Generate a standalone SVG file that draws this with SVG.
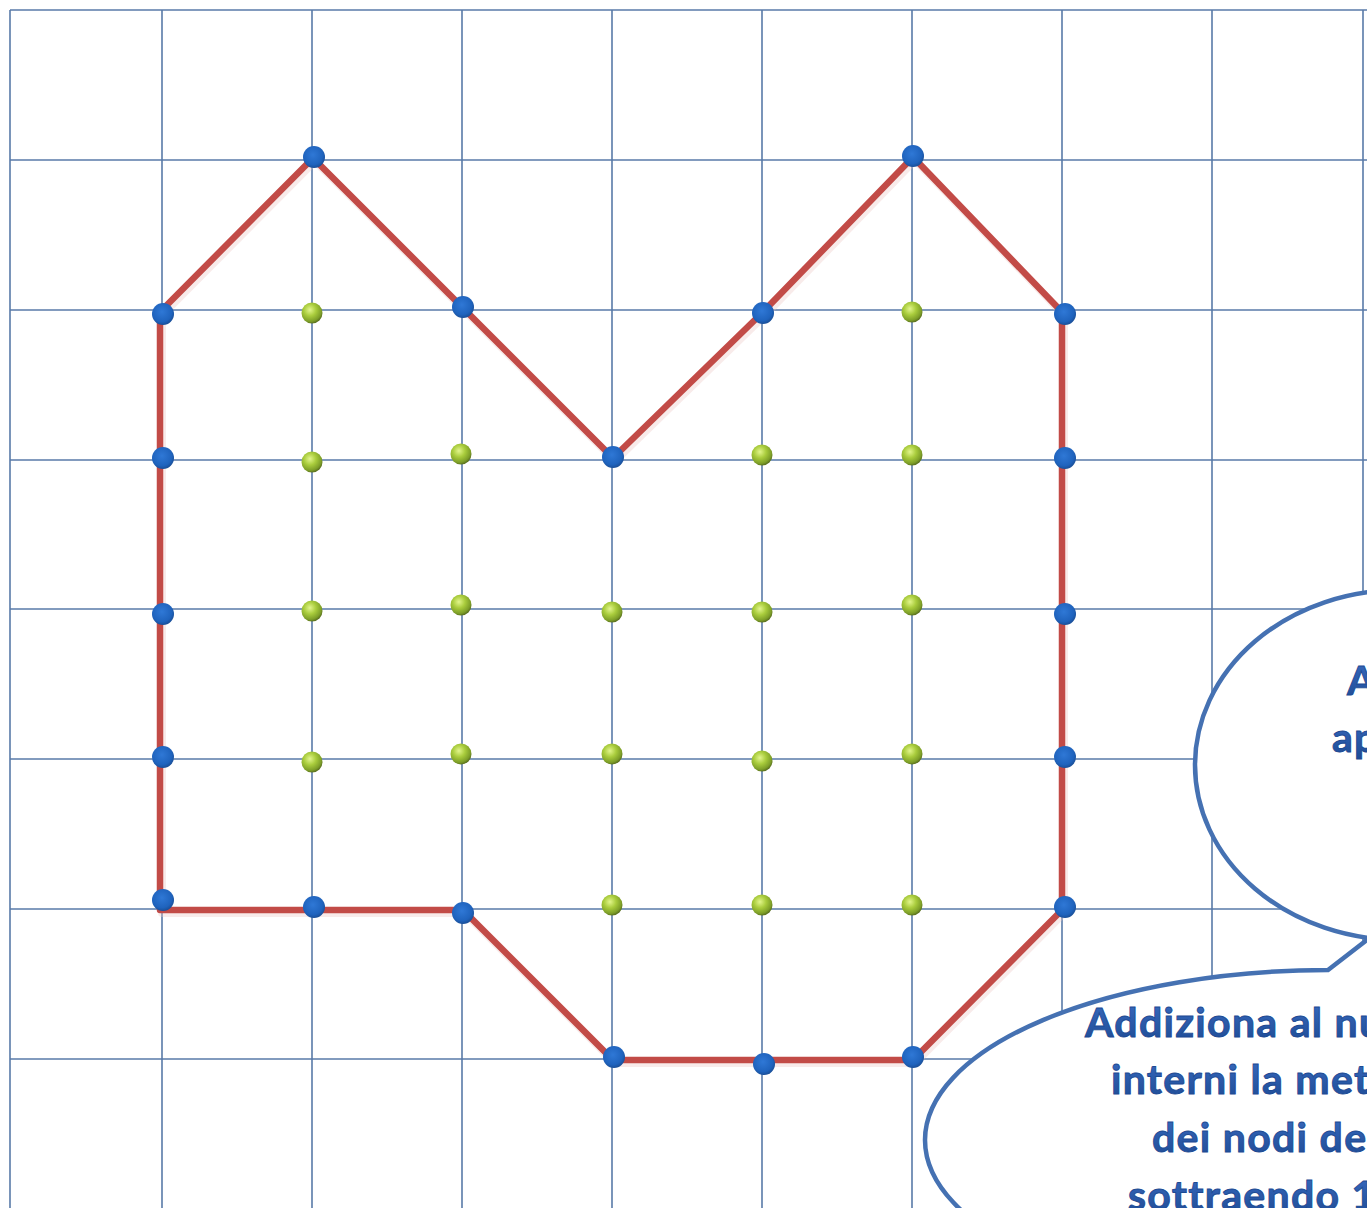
<svg xmlns="http://www.w3.org/2000/svg" width="1367" height="1208" viewBox="0 0 1367 1208">
<defs>
<radialGradient id="gBlue" cx="0.45" cy="0.4" r="0.6">
<stop offset="0" stop-color="#2f78d6"/>
<stop offset="0.75" stop-color="#1f63bd"/>
<stop offset="1" stop-color="#1a4f98"/>
</radialGradient>
<radialGradient id="gGreen" cx="0.4" cy="0.35" r="0.65">
<stop offset="0" stop-color="#e2f58c"/>
<stop offset="0.45" stop-color="#a9cc3c"/>
<stop offset="0.85" stop-color="#7d9e28"/>
<stop offset="1" stop-color="#5d7420"/>
</radialGradient>
<linearGradient id="gText" x1="0" y1="0" x2="0" y2="1">
<stop offset="0" stop-color="#3a6cc2"/>
<stop offset="1" stop-color="#1d4a93"/>
</linearGradient>
</defs>
<style>
.grid line{stroke:#587aa8;stroke-width:1.6}
.edge{fill:none;stroke:#c24b47;stroke-width:6.5;stroke-linejoin:round}
.edgeShadow{fill:none;stroke:#ecc6c3;stroke-width:8;stroke-linejoin:round;opacity:0.35}
.b{fill:url(#gBlue)}
.g{fill:url(#gGreen)}
.bubble{fill:#ffffff;stroke:#4571b2;stroke-width:4.5}
.t{font-family:"Lato","Open Sans","Liberation Sans",sans-serif;font-weight:700;font-size:41px;letter-spacing:1.3px;fill:url(#gText);stroke:#1d4a93;stroke-width:0.9}
</style>
<rect width="1367" height="1208" fill="#ffffff"/>
<g id="grid" class="grid">
<line x1="10" y1="10" x2="10" y2="1208"/>
<line x1="162" y1="10" x2="162" y2="1208"/>
<line x1="312" y1="10" x2="312" y2="1208"/>
<line x1="462" y1="10" x2="462" y2="1208"/>
<line x1="612" y1="10" x2="612" y2="1208"/>
<line x1="762" y1="10" x2="762" y2="1208"/>
<line x1="912" y1="10" x2="912" y2="1208"/>
<line x1="1062" y1="10" x2="1062" y2="1208"/>
<line x1="1212" y1="10" x2="1212" y2="1208"/>
<line x1="1363" y1="10" x2="1363" y2="1208"/>
<line x1="10" y1="10" x2="1367" y2="10"/>
<line x1="10" y1="160" x2="1367" y2="160"/>
<line x1="10" y1="310" x2="1367" y2="310"/>
<line x1="10" y1="460" x2="1367" y2="460"/>
<line x1="10" y1="609" x2="1367" y2="609"/>
<line x1="10" y1="759" x2="1367" y2="759"/>
<line x1="10" y1="909" x2="1367" y2="909"/>
<line x1="10" y1="1059" x2="1367" y2="1059"/>
</g>
<g id="connectors">
<polygon class="edgeShadow" points="160,312 313,158 463,308 613,458 763,312 913,157 1062,312 1062,910 913,1060 613,1060 463,910 160,910" transform="translate(2,3)"/>
<polygon class="edge" points="160,312 313,158 463,308 613,458 763,312 913,157 1062,312 1062,910 913,1060 613,1060 463,910 160,910"/>
</g>
<g id="boundary-nodes">
<circle class="b" cx="314" cy="157" r="11"/>
<circle class="b" cx="913" cy="156" r="11"/>
<circle class="b" cx="163" cy="314" r="11"/>
<circle class="b" cx="463" cy="307" r="11"/>
<circle class="b" cx="763" cy="313" r="11"/>
<circle class="b" cx="1065" cy="314" r="11"/>
<circle class="b" cx="163" cy="458" r="11"/>
<circle class="b" cx="613" cy="457" r="11"/>
<circle class="b" cx="1065" cy="458" r="11"/>
<circle class="b" cx="163" cy="614" r="11"/>
<circle class="b" cx="1065" cy="614" r="11"/>
<circle class="b" cx="163" cy="757" r="11"/>
<circle class="b" cx="1065" cy="757" r="11"/>
<circle class="b" cx="163" cy="900" r="11"/>
<circle class="b" cx="314" cy="907" r="11"/>
<circle class="b" cx="463" cy="913" r="11"/>
<circle class="b" cx="1065" cy="907" r="11"/>
<circle class="b" cx="614" cy="1057" r="11"/>
<circle class="b" cx="764" cy="1064" r="11"/>
<circle class="b" cx="913" cy="1057" r="11"/>
</g>
<g id="interior-nodes">
<circle class="g" cx="312" cy="313" r="10.5"/>
<circle class="g" cx="912" cy="312" r="10.5"/>
<circle class="g" cx="312" cy="462" r="10.5"/>
<circle class="g" cx="461" cy="454" r="10.5"/>
<circle class="g" cx="762" cy="455" r="10.5"/>
<circle class="g" cx="912" cy="455" r="10.5"/>
<circle class="g" cx="312" cy="611" r="10.5"/>
<circle class="g" cx="461" cy="605" r="10.5"/>
<circle class="g" cx="612" cy="612" r="10.5"/>
<circle class="g" cx="762" cy="612" r="10.5"/>
<circle class="g" cx="912" cy="605" r="10.5"/>
<circle class="g" cx="312" cy="762" r="10.5"/>
<circle class="g" cx="461" cy="754" r="10.5"/>
<circle class="g" cx="612" cy="754" r="10.5"/>
<circle class="g" cx="762" cy="761" r="10.5"/>
<circle class="g" cx="912" cy="754" r="10.5"/>
<circle class="g" cx="612" cy="905" r="10.5"/>
<circle class="g" cx="762" cy="905" r="10.5"/>
<circle class="g" cx="912" cy="905" r="10.5"/>
</g>
<g id="bubble-upper">
<ellipse class="bubble" cx="1400" cy="765" rx="205" ry="175"/>
<text class="t" x="1347" y="695">A</text>
<text class="t" x="1332" y="752">ap</text>
</g>
<g id="bubble-lower">
<path class="bubble" d="M1385,926 L1328,970 A405,170 0 0 0 925,1140 A405,170 0 0 0 1330,1310 A405,170 0 0 0 1735,1140 A405,170 0 0 0 1420,974 Z"/>
<text class="t" x="1085" y="1037">Addiziona al nu</text>
<text class="t" x="1111" y="1094">interni la met</text>
<text class="t" x="1152" y="1152">dei nodi de</text>
<text class="t" x="1128" y="1210">sottraendo 1</text>
</g>
</svg>
